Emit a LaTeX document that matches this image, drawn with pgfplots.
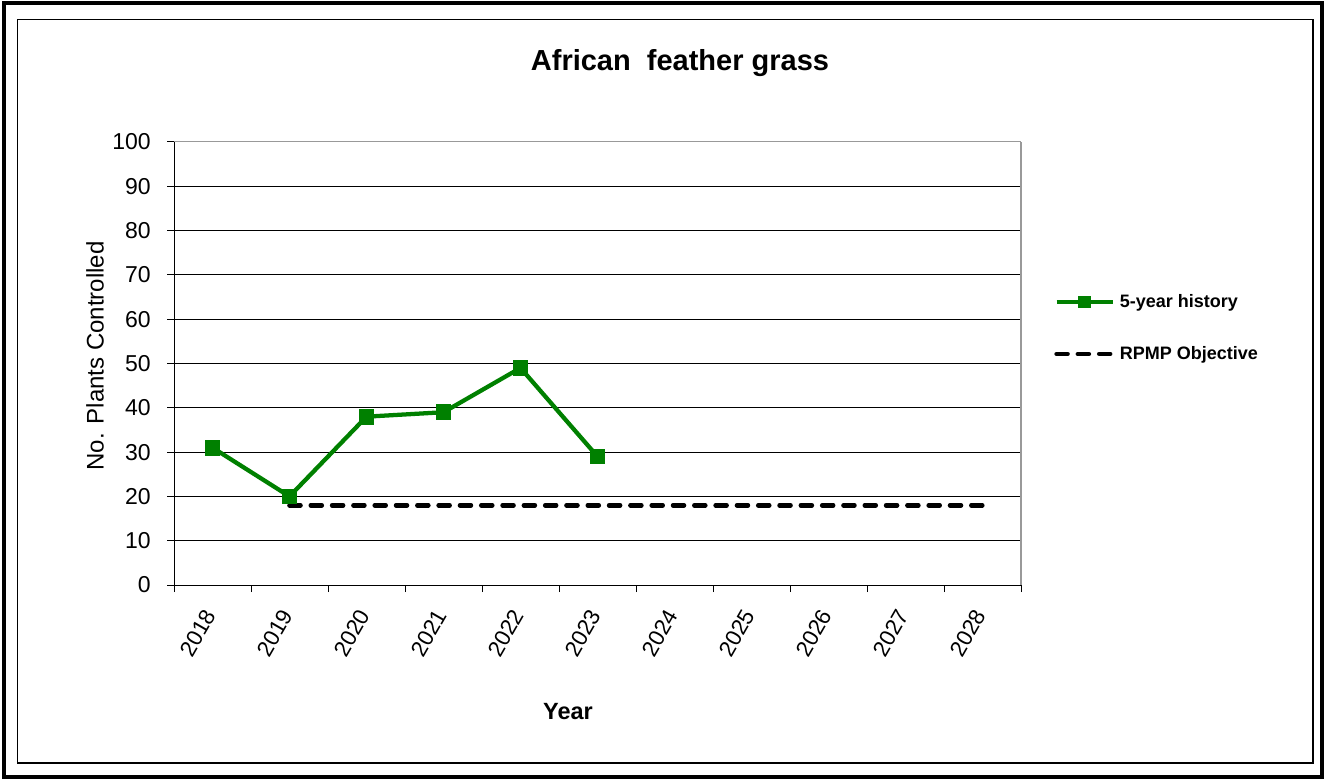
\documentclass[border=0pt]{standalone}
\usepackage{pgfplots}
\pgfplotsset{compat=1.18}
\usepackage{fontspec}
\setmainfont{Liberation Sans}
\definecolor{histgreen}{RGB}{0,128,0}
\begin{document}
\begin{tikzpicture}
% canvas and frames (1px = 0.75pt)
\path[use as bounding box] (0pt,0pt) rectangle (993.75pt,-585pt);
\draw[line width=3pt] (3pt,-2.6pt) rectangle (991.5pt,-583pt);
\draw[line width=1pt] (13.1pt,-14.6pt) rectangle (984.75pt,-572.25pt);
\node[font=\fontsize{21.75pt}{24pt}\selectfont\bfseries] at (510pt,-47.25pt) {African\ \ feather grass};
\node[font=\fontsize{18pt}{20pt}\selectfont, rotate=90] at (71.25pt,-267pt) {No. Plants Controlled};
\node[font=\fontsize{17.6pt}{20pt}\selectfont\bfseries] at (426pt,-534pt) {Year};
\begin{axis}[
  at={(130.5pt,-438.75pt)}, anchor=south west,
  scale only axis, width=635.25pt, height=332.25pt,
  xmin=0, xmax=11, ymin=0, ymax=100,
  ytick={0,10,...,100},
  xtick={0,1,...,11},
  xticklabels={2018,2019,2020,2021,2022,2023,2024,2025,2026,2027,2028},
  x tick label as interval,
  xtick pos=bottom, ytick pos=left,
  ymajorgrids, major grid style={black, line width=0.75pt},
  axis line style={draw=none},
  tick align=outside, major tick length=5.25pt,
  tick style={black, line width=0.75pt},
  /pgf/number format/assume math mode=true,
  yticklabel style={font=\fontsize{17.25pt}{19pt}\selectfont, inner sep=0pt, xshift=-12pt},
  xticklabel style={font=\fontsize{16.75pt}{18pt}\selectfont, anchor=east, inner sep=0pt, xshift=-1.5pt, yshift=-14.5pt, rotate=60},
  legend style={at={(1.039,0.5800)}, anchor=west, draw=none, fill=none,
    inner sep=0pt, row sep=27.5pt,
    font=\fontsize{13.5pt}{15pt}\selectfont\bfseries,
    nodes={inner sep=0pt}},
  legend cell align=left,
  legend image code/.code={\draw[mark repeat=2,mark phase=2,#1,mark size=3pt] plot coordinates {(0pt,0pt) (21pt,0pt) (42pt,0pt)};},
  clip=false,
]
\draw[gray!80, line width=1.5pt] (rel axis cs:1,0) -- (rel axis cs:1,1);
\draw[gray!80, line width=0.75pt] (rel axis cs:0,1) -- (rel axis cs:1,1);
\draw[black, line width=0.75pt] (rel axis cs:0,0) -- (rel axis cs:0,1);
\draw[black, line width=0.75pt] (rel axis cs:0,0) -- (rel axis cs:1,0);
\addplot[histgreen, line width=3.2pt, mark=square*, mark size=4.3pt, mark options={solid, fill=histgreen}]
  coordinates {(0.5,31) (1.5,20) (2.5,38) (3.5,39) (4.5,49) (5.5,29)};
\addlegendentry{\ 5-year history}
\addplot[black, line width=3.4pt, line cap=round, dash pattern=on 8.25pt off 7.73pt]
  coordinates {(1.5,18) (2.5,18) (3.5,18) (4.5,18) (5.5,18) (6.5,18) (7.5,18) (8.5,18) (9.5,18) (10.5,18)};
\addlegendentry{\ RPMP Objective}
\end{axis}
\end{tikzpicture}
\end{document}
